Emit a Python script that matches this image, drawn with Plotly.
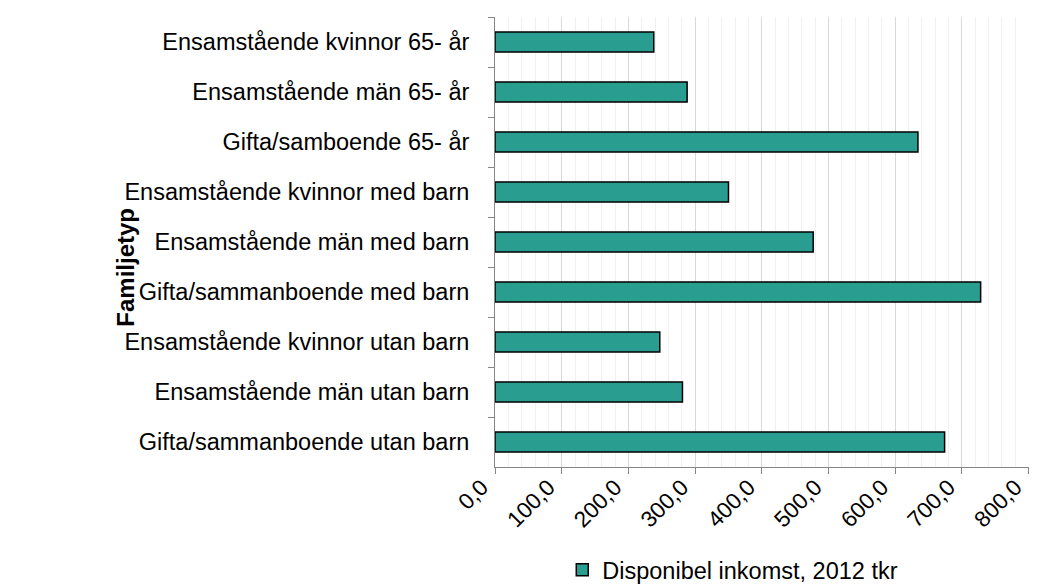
import plotly.graph_objects as go

# Familjetyp, top to bottom as in the chart
categories = [
    "Ensamstående kvinnor 65- år",
    "Ensamstående män 65- år",
    "Gifta/samboende 65- år",
    "Ensamstående kvinnor med barn",
    "Ensamstående män med barn",
    "Gifta/sammanboende med barn",
    "Ensamstående kvinnor utan barn",
    "Ensamstående män utan barn",
    "Gifta/sammanboende utan barn",
]
inkomst_2012 = [238, 288, 634, 350, 477, 728, 247, 281, 674]
series_name = "Disponibel inkomst, 2012 tkr"

x_ticks = [0, 100, 200, 300, 400, 500, 600, 700, 800]
x_tick_labels = ["0,0", "100,0", "200,0", "300,0", "400,0", "500,0", "600,0", "700,0", "800,0"]

FONT = "Liberation Sans, Arial, sans-serif"
PAD = "\u00a0\u00a0\u00a0"  # nudges the rotated tick labels down-left of the tick, as in the original

# page body adds an 8px margin on the top/left
fig = go.Figure()
fig.add_trace(go.Bar(
    x=inkomst_2012,
    y=categories,
    orientation="h",
    name=series_name,
    marker=dict(color="#2A9D91", line=dict(color="#000000", width=1.5)),
    showlegend=True,
))

fig.update_layout(
    width=1029,
    height=577,
    margin=dict(l=487, r=8, t=9, b=118, autoexpand=False),
    paper_bgcolor="white",
    plot_bgcolor="white",
    font=dict(family=FONT, size=23, color="#000000"),
    bargap=0.6,
    legend=dict(
        orientation="h",
        x=0.126, xanchor="left",
        y=-0.229, yanchor="middle",
        itemwidth=30,
        font=dict(size=23.5),
        bgcolor="rgba(0,0,0,0)",
    ),
    annotations=[dict(
        text="<b>Familjetyp</b>",
        xref="paper", yref="paper",
        x=-0.692, y=0.444,
        xanchor="center", yanchor="middle",
        textangle=-90,
        showarrow=False,
        font=dict(size=24),
    )],
)

fig.update_xaxes(
    range=[0, 800.5],
    tickvals=x_ticks,
    ticktext=[t + PAD for t in x_tick_labels],
    tickangle=-45,
    ticks="outside",
    ticklen=6,
    tickcolor="#868686",
    showline=True,
    linecolor="#868686",
    linewidth=1,
    showgrid=True,
    gridcolor="#D9D9D9",
    gridwidth=1,
    minor=dict(dtick=20, showgrid=True, gridcolor="#F0F0F0", gridwidth=1),
    zeroline=False,
    automargin=False,
    ticklabeloverflow="allow",
    ticklabelstandoff=-22,
    tickfont=dict(size=22.5),
)

fig.update_yaxes(
    autorange="reversed",
    tickson="boundaries",
    ticks="outside",
    ticklen=6,
    tickcolor="#868686",
    showline=True,
    linecolor="#868686",
    linewidth=1,
    showgrid=False,
    ticklabelstandoff=20,
    automargin=False,
    tickfont=dict(size=23.5),
)

fig.write_html("out.html")
